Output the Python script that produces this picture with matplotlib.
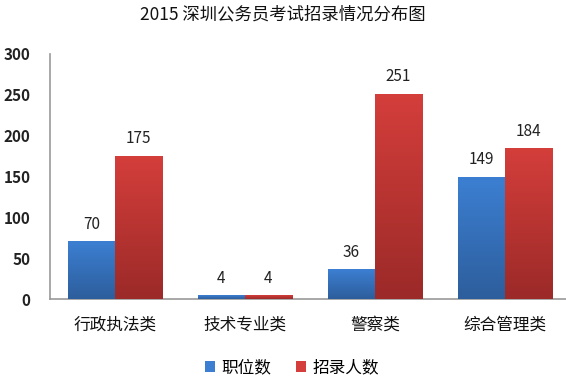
import numpy as np
import matplotlib
matplotlib.use("Agg")
import matplotlib.pyplot as plt
from matplotlib.colors import LinearSegmentedColormap

plt.rcParams['font.family'] = ['Noto Sans CJK SC', 'DejaVu Sans']

# Data
categories = ['行政执法类', '技术专业类', '警察类', '综合管理类']
positions = [70, 4, 36, 149]
hires = [175, 4, 251, 184]
series_names = ['职位数', '招录人数']
yticks = [0, 50, 100, 150, 200, 250, 300]

# Gradient colours (top -> bottom)
blue_grad = ['#3c7fd2', '#2d5e9c']
red_grad = ['#d43e3b', '#9b2a28']

fig = plt.figure(figsize=(5.66, 3.87), dpi=100)
ax = fig.add_axes([50 / 566, 88 / 387, 516 / 566, 245 / 387])

x = np.arange(len(categories))
w = 0.362

bars1 = ax.bar(x - w / 2, positions, w, color=blue_grad[0], label=series_names[0], zorder=2)
bars2 = ax.bar(x + w / 2, hires, w, color=red_grad[0], label=series_names[1], zorder=2)


def shade(bars, cols):
    cmap = LinearSegmentedColormap.from_list('g', [cols[1], cols[0]])
    grad = np.linspace(0, 1, 256).reshape(-1, 1)
    for b in bars:
        x0, y0 = b.get_x(), b.get_y()
        x1, y1 = x0 + b.get_width(), y0 + b.get_height()
        ax.imshow(grad, cmap=cmap, origin='lower', aspect='auto',
                  extent=[x0, x1, y0, y1], zorder=3)


shade(bars1, blue_grad)
shade(bars2, red_grad)

for bars in (bars1, bars2):
    for b in bars:
        ax.text(b.get_x() + b.get_width() / 2, b.get_height() + 11,
                str(int(b.get_height())), ha='center', va='bottom',
                fontsize=11, color='#222222', zorder=4)

ax.set_xlim(-0.5, 3.47)
ax.set_ylim(0, 300)
ax.set_yticks(yticks)
ax.set_yticklabels([str(v) for v in yticks], fontsize=11, fontweight='bold', color='#222222')
ax.set_xticks(x)
ax.set_xticklabels(categories, fontsize=12, color='#111111')
ax.tick_params(axis='both', length=0)
ax.tick_params(axis='x', pad=13)
ax.tick_params(axis='y', pad=14)

for s in ('top', 'right'):
    ax.spines[s].set_visible(False)
for s in ('left', 'bottom'):
    ax.spines[s].set_color('#999999')
    ax.spines[s].set_linewidth(1.2)

fig.text(0.5, 1 - 14 / 387, '2015 深圳公务员考试招录情况分布图', ha='center', va='center',
         fontsize=12.5, color='#111111')

fig.legend(handles=[bars1, bars2], labels=series_names, loc='center',
           bbox_to_anchor=(292 / 566, 1 - 368 / 387), ncol=2, frameon=False,
           fontsize=12, handlelength=0.6, handleheight=0.6, handletextpad=0.4,
           columnspacing=1.5)

fig.savefig('out.png', dpi=100)
